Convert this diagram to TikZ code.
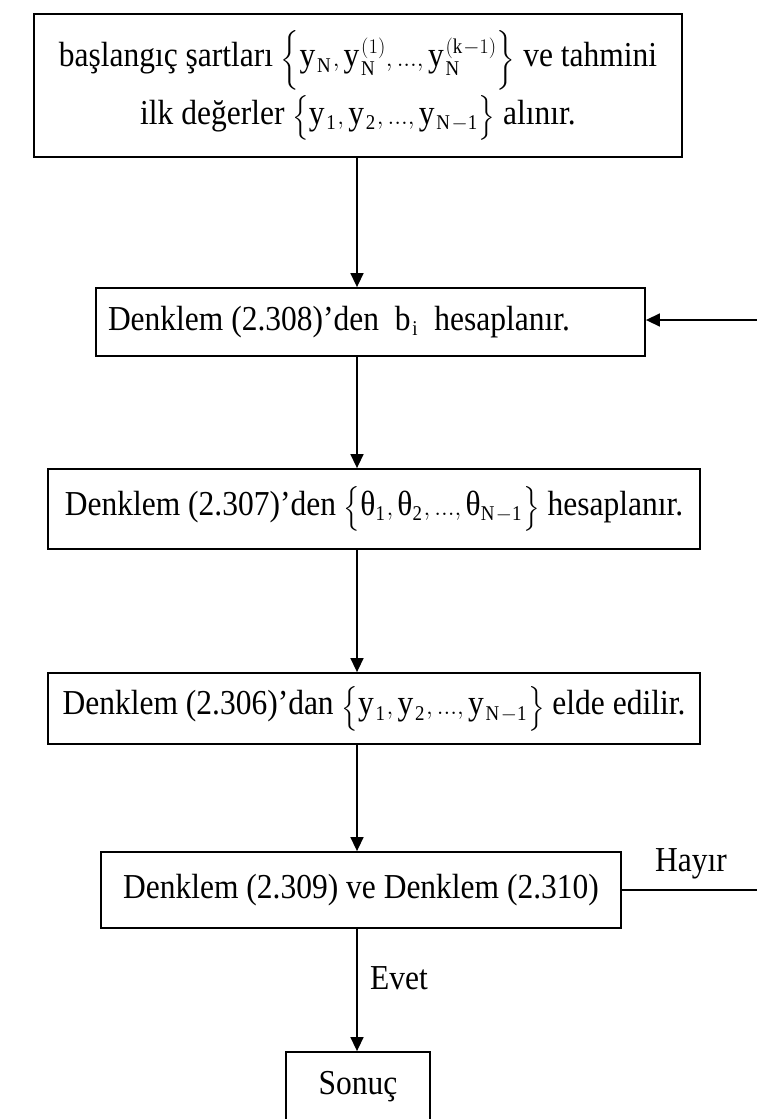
\documentclass[tikz,border=0pt]{standalone}
\usepackage{amsmath}
\usepackage{fontspec}
\setmainfont{Liberation Serif}[FakeStretch=0.9]
\usetikzlibrary{arrows.meta}
\DeclareMathSizes{35}{35}{21}{16}
\newcommand{\ry}{\mathrm{y}}
\newcommand{\rN}{\mathrm{N}}
\newcommand{\tht}{\text{θ}}
\newcommand{\cma}{\mathpunct{\mathrm{,}}}
\newcommand{\dts}{\mathrm{...}}
\begin{document}
\begin{tikzpicture}[x=1pt,y=-1pt,
  box/.style={draw, line width=1.8pt, inner sep=0pt, align=center,
    font=\fontsize{35}{42}\selectfont},
  arr/.style={line width=1.5pt, -{Triangle[length=14pt,width=13pt]}},
  plain/.style={line width=1.5pt},
  lbl/.style={inner sep=0pt, font=\fontsize{35}{42}\selectfont}]
\useasboundingbox (0,0) rectangle (757,1119);

% process boxes
\node[box, minimum width=648pt, minimum height=143pt] (b1) at (358,85.5)
  {başlangıç şartları $\biggl\{\ry_{\rN}\cma\ry_{\rN}^{(1)}\cma\dts\cma\ry_{\rN}^{(\mathrm{k}-1)}\biggr\}$ ve tahmini\\[4pt]
   ilk değerler $\Bigl\{\ry_{\mathrm{1}}\cma\ry_{\mathrm{2}}\cma\dts\cma\ry_{\rN-\mathrm{1}}\Bigr\}$ alınır.};
\node[box, minimum width=549pt, minimum height=68pt] (b2) at (370.5,322)
  {\makebox[525pt][l]{Denklem (2.308)’den \ $\mathrm{b}_{\mathrm{i}}$ \ hesaplanır.}};
\node[box, minimum width=652pt, minimum height=80pt] (b3) at (374,509)
  {Denklem (2.307)’den $\Bigl\{\tht_{\mathrm{1}}\cma\tht_{\mathrm{2}}\cma\dts\cma\tht_{\rN-\mathrm{1}}\Bigr\}$ hesaplanır.};
\node[box, minimum width=652pt, minimum height=71pt] (b4) at (374,708.5)
  {Denklem (2.306)’dan $\Bigl\{\ry_{\mathrm{1}}\cma\ry_{\mathrm{2}}\cma\dts\cma\ry_{\rN-\mathrm{1}}\Bigr\}$ elde edilir.};
\node[box, minimum width=520pt, minimum height=76pt] (b5) at (361,890)
  {Denklem (2.309) ve Denklem (2.310)};
\node[box, minimum width=144pt, minimum height=70pt] (b6) at (358,1087)
  {Sonuç};

% branch labels
\node[lbl] (hayir) at (691,864) {Hayır};
\node[lbl] (evet) at (399,978) {Evet};

% connectors
\coordinate (ax) at (357,0);
\coordinate (redge) at (757,0);
\coordinate (fb) at (757,320);
\draw[arr] (b1.south -| ax) -- (b2.north -| ax);
\draw[arr] (b2.south -| ax) -- (b3.north -| ax);
\draw[arr] (b3.south -| ax) -- (b4.north -| ax);
\draw[arr] (b4.south -| ax) -- (b5.north -| ax);
\draw[arr] (b5.south -| ax) -- (b6.north -| ax);
\draw[arr] (fb) -- (fb -| b2.east);
\draw[plain] (b5.east) -- (b5.east -| redge);
\end{tikzpicture}
\end{document}
